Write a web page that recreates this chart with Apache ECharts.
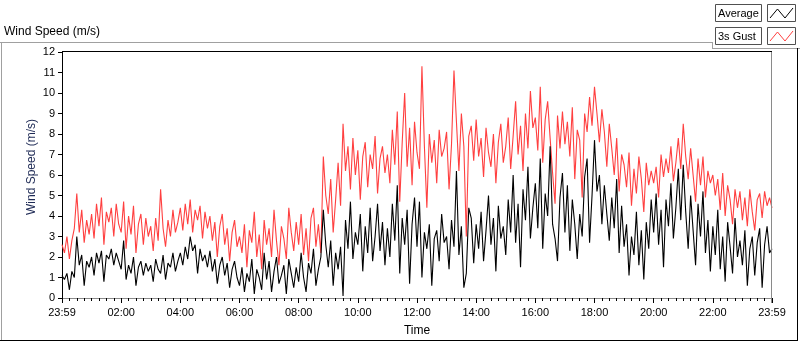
<!DOCTYPE html>
<html><head><meta charset="utf-8">
<script src="https://cdn.jsdelivr.net/npm/echarts@6/dist/echarts.min.js"></script>
<style>html,body{margin:0;padding:0;background:#fff}#c{width:800px;height:342px}</style>
</head><body><div id="c"></div><script>
// x tick labels (every 2 hours from 23:59 to 23:59)
const tickLabels = ['23:59','02:00','04:00','06:00','08:00','10:00','12:00','14:00','16:00','18:00','20:00','22:00','23:59'];
const stepMinutes = 5; // one sample every 5 minutes, 12 per row (= one hour)
const seriesNames = ['Average', '3s Gust'];

const average = [
1.1,0.9,1.2,0.4,1.3,1.0,3.0,1.6,2.1,0.6,1.8,1.5,
2.0,1.1,2.2,1.7,2.3,0.8,2.1,1.9,2.4,1.6,2.2,1.8,
1.4,2.8,0.9,1.6,1.2,2.0,0.6,1.5,1.8,1.1,1.7,1.3,
1.6,0.8,1.9,1.4,1.2,2.1,0.9,1.7,1.5,2.2,1.3,1.8,
2.2,1.6,2.5,1.9,3.0,2.3,2.6,1.2,2.4,1.8,2.1,1.5,
2.3,1.3,1.9,0.7,1.6,2.0,1.1,1.7,0.5,1.4,1.8,1.0,
0.6,1.5,0.3,1.2,0.8,1.9,0.2,1.4,1.0,0.4,2.2,0.9,
1.8,0.3,1.3,2.0,0.7,1.1,1.6,0.2,1.9,1.2,0.5,1.5,
0.8,2.2,1.0,0.3,1.7,1.2,2.4,0.6,1.4,2.0,4.3,2.6,
1.5,2.8,0.6,2.2,1.4,2.5,0.1,3.8,2.4,4.7,1.9,3.2,
2.6,4.1,1.3,3.5,2.2,4.4,1.8,3.0,4.6,2.3,3.7,1.6,
3.4,2.0,4.6,2.8,5.5,1.2,3.9,2.6,4.3,0.7,3.6,4.9,
2.5,4.7,1.0,3.2,2.4,3.6,0.6,2.9,3.3,1.8,4.1,2.7,
3.0,1.4,3.8,2.5,6.2,2.1,3.5,0.5,1.2,4.4,3.9,1.7,
3.6,2.4,4.2,1.8,3.3,5.0,2.6,3.9,1.3,4.5,2.9,3.5,
2.1,4.8,3.2,6.0,2.7,4.6,1.5,5.3,3.8,6.4,2.9,4.4,
5.6,3.4,6.8,2.4,5.1,4.0,7.4,3.6,2.9,1.8,4.9,6.1,
3.2,5.5,2.3,4.8,3.6,1.9,4.1,3.0,5.9,6.8,2.7,5.0,
7.7,5.2,6.0,3.6,5.5,4.1,2.8,4.9,3.4,5.8,2.2,4.5,
2.5,3.6,1.1,3.0,2.1,4.2,1.6,3.3,0.9,3.7,2.4,4.8,
3.2,5.1,2.6,4.3,1.5,4.8,3.5,5.6,2.9,4.4,6.3,3.8,
6.5,4.2,2.4,5.0,3.3,1.6,4.6,3.0,5.2,2.2,3.8,1.3,
3.5,2.1,4.3,1.4,3.0,0.8,3.7,2.5,1.2,3.9,2.0,2.8,
1.6,3.3,0.6,2.4,3.0,1.1,2.7,3.4,0.5,2.6,3.5,2.2,
2.4
];

const gust = [
2.6,2.2,3.0,1.9,2.8,3.4,5.1,3.2,4.3,2.7,3.8,3.1,
4.1,2.9,4.6,3.5,4.9,2.6,4.2,3.7,4.4,3.0,4.6,3.6,
3.2,4.7,2.4,4.0,3.1,4.5,2.2,3.6,4.1,2.6,3.9,3.0,
3.5,2.3,3.9,2.8,5.3,3.4,2.5,3.8,3.0,4.3,3.2,3.7,
4.4,3.3,4.6,3.6,4.8,3.2,4.3,3.8,4.5,2.9,4.2,3.4,
4.0,2.8,3.7,2.0,3.5,4.1,2.6,3.4,1.8,3.2,3.8,2.5,
3.0,2.2,3.6,1.5,3.3,2.7,4.2,2.0,3.1,1.4,3.8,2.6,
3.4,2.0,4.3,2.8,1.6,3.5,2.9,1.9,4.4,3.2,2.3,3.7,
2.6,4.1,2.1,3.4,1.8,3.9,4.4,2.5,3.6,2.2,6.9,5.0,
4.1,5.8,3.2,4.8,6.6,4.5,8.5,6.2,7.4,5.3,7.8,6.0,
7.2,4.8,6.9,7.6,5.4,7.0,6.3,7.9,5.1,6.8,7.4,6.1,
7.0,5.6,8.2,6.5,9.1,4.7,7.6,10.0,6.4,8.3,5.5,8.6,
7.1,6.3,11.3,7.4,4.4,8.0,6.6,7.7,5.6,8.2,6.9,7.3,
8.1,5.3,7.5,11.1,8.6,6.2,9.0,7.4,3.0,7.9,8.4,6.7,
8.7,6.9,7.8,5.9,8.3,7.1,6.4,8.0,5.6,7.6,8.5,6.6,
7.4,8.8,6.3,7.9,9.6,7.0,8.4,6.2,9.0,7.3,10.1,8.3,
8.8,7.2,10.3,6.6,8.7,9.6,7.8,6.1,4.6,8.9,7.3,9.1,
7.5,8.6,6.9,9.3,5.8,8.2,7.7,4.9,9.0,8.1,9.8,8.4,
10.3,9.0,7.6,9.2,8.1,6.4,8.5,7.3,6.0,7.8,5.2,7.0,
6.5,5.4,7.1,4.5,6.3,5.1,6.9,5.8,4.2,6.6,5.5,6.2,
5.6,6.4,4.9,7.0,5.9,6.8,6.1,7.4,5.7,6.6,7.8,6.3,
8.5,6.9,5.8,7.3,6.0,4.7,6.8,5.5,6.9,4.9,6.2,5.6,
6.0,5.0,5.8,4.3,6.1,4.0,5.5,4.8,3.6,5.3,4.4,5.2,
3.8,4.9,3.5,5.3,4.2,3.3,4.8,5.1,3.9,5.2,4.5,4.9,
4.4
];

const FONT = '"Liberation Sans", Arial, sans-serif';
const toPairs = arr => arr.map((v, i) => [i * stepMinutes, v]);

const chart = echarts.init(document.getElementById('c'), null, {renderer: 'canvas'});
chart.setOption({
  animation: false,
  backgroundColor: '#fff',
  grid: {left: 62, top: 52, right: 28, bottom: 39, containLabel: false},
  xAxis: {
    type: 'value', min: 0, max: 1440, interval: 120,
    name: 'Time', nameLocation: 'middle', nameGap: 27,
    nameTextStyle: {fontFamily: FONT, fontSize: 12, color: '#000'},
    axisLine: {show: true, lineStyle: {color: '#8a8a8a', width: 1}},
    axisTick: {show: true, length: 5, lineStyle: {color: '#000'}},
    minorTick: {show: true, splitNumber: 8, length: 3, lineStyle: {color: '#000'}},
    splitLine: {show: false},
    axisLabel: {
      fontFamily: FONT, fontSize: 11, color: '#000', margin: 9,
      showMinLabel: true, showMaxLabel: true, hideOverlap: false,
      formatter: v => tickLabels[Math.round(v / 120)]
    }
  },
  yAxis: {
    type: 'value', min: 0, max: 12, interval: 1,
    axisLine: {show: true, lineStyle: {color: '#000', width: 1}},
    axisTick: {show: true, length: 4, lineStyle: {color: '#000'}},
    splitLine: {show: false},
    axisLabel: {fontFamily: FONT, fontSize: 11, color: '#000', margin: 7}
  },
  series: [
    {name: seriesNames[1], type: 'line', data: toPairs(gust), showSymbol: false, symbol: 'none',
     lineStyle: {color: '#ff4040', width: 1.1}, itemStyle: {color: '#ff4040'}, z: 2},
    {name: seriesNames[0], type: 'line', data: toPairs(average), showSymbol: false, symbol: 'none',
     lineStyle: {color: '#000', width: 1.1}, itemStyle: {color: '#000'}, z: 3}
  ],
  graphic: [
    {type: 'text', x: 4, y: 32, style: {text: 'Wind Speed (m/s)', font: '12px ' + FONT, fill: '#000', verticalAlign: 'middle'}},
    {type: 'text', x: 32, y: 167, rotation: Math.PI / 2,
     style: {text: 'Wind Speed (m/s)', font: '12px ' + FONT, fill: '#1e2a55', align: 'center', verticalAlign: 'middle'}},
    // outer frame
    {type: 'line', shape: {x1: 0, y1: 42.5, x2: 712, y2: 42.5}, style: {stroke: '#a0a0a0', lineWidth: 1}},
    {type: 'line', shape: {x1: 712.5, y1: 42, x2: 712.5, y2: 48.5}, style: {stroke: '#a0a0a0', lineWidth: 1}},
    {type: 'line', shape: {x1: 712, y1: 48.5, x2: 800, y2: 48.5}, style: {stroke: '#a0a0a0', lineWidth: 1}},
    {type: 'line', shape: {x1: 1.5, y1: 42, x2: 1.5, y2: 341}, style: {stroke: '#a0a0a0', lineWidth: 1}},
    {type: 'line', shape: {x1: 0, y1: 340.5, x2: 798, y2: 340.5}, style: {stroke: '#000', lineWidth: 1}},
    {type: 'line', shape: {x1: 797.5, y1: 48, x2: 797.5, y2: 341}, style: {stroke: '#000', lineWidth: 1}},
    // plot frame top / right
    {type: 'line', shape: {x1: 62, y1: 51.5, x2: 772, y2: 51.5}, style: {stroke: '#000', lineWidth: 1}, z: 10},
    {type: 'line', shape: {x1: 771.5, y1: 52, x2: 771.5, y2: 303}, style: {stroke: '#8a8a8a', lineWidth: 1}, z: 10},
    // legend
    {type: 'rect', shape: {x: 715.5, y: 4.5, width: 46, height: 17}, style: {fill: '#fff', stroke: '#505050', lineWidth: 1}},
    {type: 'text', x: 718, y: 13.5, style: {text: seriesNames[0], font: '11px ' + FONT, fill: '#000', verticalAlign: 'middle'}},
    {type: 'rect', shape: {x: 767.5, y: 4.5, width: 28, height: 17}, style: {fill: '#fff', stroke: '#505050', lineWidth: 1}},
    {type: 'polyline', shape: {points: [[770, 18], [777.5, 9], [785, 18], [793, 8]]}, style: {stroke: '#000', lineWidth: 1, fill: null}},
    {type: 'rect', shape: {x: 715.5, y: 27.5, width: 46, height: 17}, style: {fill: '#fff', stroke: '#505050', lineWidth: 1}},
    {type: 'text', x: 718, y: 36.5, style: {text: seriesNames[1], font: '11px ' + FONT, fill: '#000', verticalAlign: 'middle'}},
    {type: 'rect', shape: {x: 767.5, y: 27.5, width: 28, height: 17}, style: {fill: '#fff', stroke: '#505050', lineWidth: 1}},
    {type: 'polyline', shape: {points: [[770, 41], [777.5, 32], [785, 41], [793, 31]]}, style: {stroke: '#ff4040', lineWidth: 1, fill: null}}
  ]
});
</script></body></html>
